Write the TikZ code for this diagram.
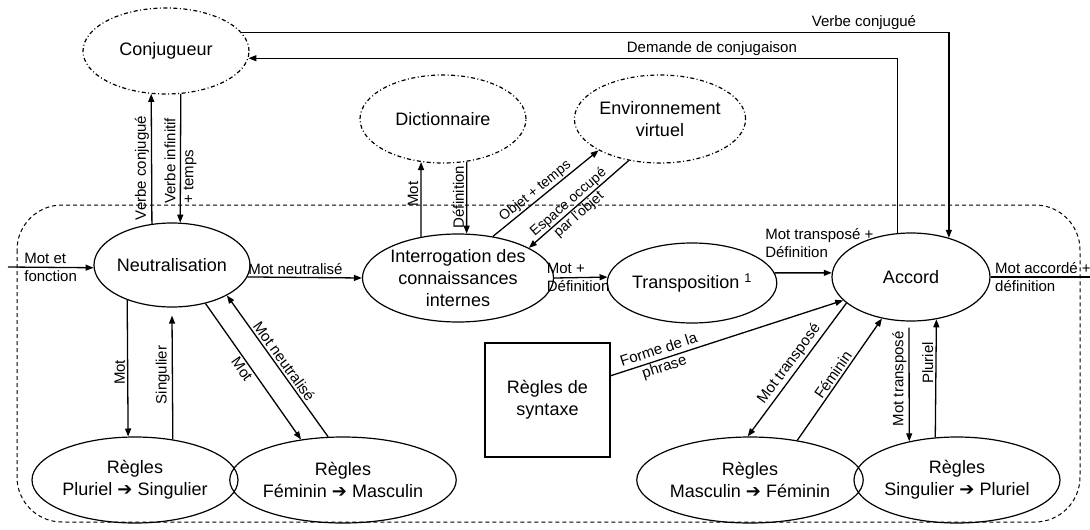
\documentclass[tikz,border=0pt]{standalone}
\usepackage{fontspec}
\setmainfont{Liberation Sans}
\newfontfamily\symfont{DejaVu Sans}
\usetikzlibrary{shapes.geometric,arrows.meta,calc}
\newcommand{\flecheR}{{\symfont\char"2794}}

\tikzset{
  big/.style={font=\fontsize{18}{22}\selectfont, align=center},
  solidell/.style={ellipse, draw, line width=1.2pt, inner sep=0pt, big},
  dotell/.style={ellipse, draw, line width=1.2pt,
    dash pattern=on 4pt off 2.5pt on 1pt off 2.5pt, inner sep=0pt, big},
  regle/.style={solidell, minimum width=206pt, minimum height=86pt},
  lab/.style={font=\fontsize{15}{18}\selectfont, inner sep=2pt},
  smalllab/.style={font=\fontsize{14}{16}\selectfont, inner sep=1pt},
  ln/.style={line width=1.3pt},
  arr/.style={ln, -{Triangle[length=8pt,width=6pt]}},
  framebox/.style={line width=1pt, dash pattern=on 4pt off 3pt, rounded corners=45pt}
}

\begin{document}
\begin{tikzpicture}[x=1pt,y=-1pt]
\useasboundingbox (0,0) rectangle (1090,530);

% system boundary
\draw[framebox] (17,205) rectangle (1080,522);

% external modules
\node[dotell, minimum width=166pt, minimum height=86pt] (conj) at (166,51) {Conjugueur};
\node[dotell, minimum width=166pt, minimum height=88pt] (dict) at (443,119) {Dictionnaire};
\node[dotell, minimum width=166pt, minimum height=88pt] (env) at (660,119) {Environnement\\virtuel};

% processing chain
\node[solidell, minimum width=156pt, minimum height=84pt] (neut) at (172,265) {Neutralisation};
\node[solidell, minimum width=160pt, minimum height=88pt] (intr) at (458,278) {Interrogation des\\connaissances\\internes};
\node[solidell, minimum width=156pt, minimum height=80pt] (trans) at (692,283) {Transposition \textsuperscript{1}};
\node[solidell, minimum width=158pt, minimum height=88pt] (acc) at (911,277) {Accord};
\node[draw, line width=1.2pt, minimum width=125pt, minimum height=114pt, big] (syn) at (547.5,400) {Règles de\\syntaxe};

% rule sets
\node[regle] (ps) at (135,480) {Règles\\Pluriel \flecheR{} Singulier};
\node[regle] (fm) at (343,480) {Règles\\Féminin \flecheR{} Masculin};
\node[regle] (mf) at (750,480) {Règles\\Masculin \flecheR{} Féminin};
\node[regle] (sp) at (957,480) {Règles\\Singulier \flecheR{} Pluriel};

\coordinate (in) at (8,267);
\coordinate (out) at (1090,277);

% conjugation loop
\draw[arr] (conj.14) -| node[lab, pos=0.44, above] {Verbe conjugué} (acc.46.6);
\draw[arr] (acc.107) |- node[lab, pos=0.643, above] {Demande de conjugaison} (conj.-5.6);
\draw[arr] (neut.116.2) -- node[lab, pos=0.43, rotate=90, anchor=south] {Verbe conjugué} (conj.251.7);
\draw[arr] (conj.-71.7) -- node[lab, pos=0.52, rotate=90, align=left] {Verbe infinitif\\+ temps} (neut.79.2);

% main flow
\draw[arr] (in) -- node[lab, pos=0.16, anchor=west, align=left] {Mot et\\fonction} (neut.182);
\draw[arr] (neut.-9.9) -- node[lab, pos=0.42, above] {Mot neutralisé} (intr.west);
\draw[arr] (intr.east) -- node[lab, pos=0.45, align=left] {Mot +\\Définition} (trans.176.3);
\draw[arr] (trans.7.5) -- node[lab, pos=0, anchor=south west, align=left, xshift=-12pt, yshift=13pt] {Mot transposé +\\Définition} (acc.177.05);
\draw[ln] (acc.east) -- node[lab, pos=0.02, anchor=west, align=left] {Mot accordé +\\définition} (out);

% knowledge queries
\draw[arr] (intr.132.5) -- node[lab, pos=0.57, rotate=90, anchor=south] {Mot} (dict.243.8);
\draw[arr] (dict.-61.5) -- node[lab, pos=0.49, rotate=90, anchor=south] {Définition} (intr.79.6);
\draw[arr] (intr.50) -- node[smalllab, pos=0.45, sloped, above] {Objet + temps} (env.207);
\draw[arr] (env.233) -- node[smalllab, pos=0.55, sloped, align=center] {Espace occupé\\par l'objet} (intr.23);

% neutralisation rules
\draw[arr] (neut.218.3) -- node[lab, pos=0.53, rotate=90, anchor=south] {Mot} (ps.99.3);
\draw[arr] (ps.47.3) -- node[lab, pos=0.52, rotate=90, anchor=south] {Singulier} ([yshift=-8pt]neut.south);
\draw[arr] (neut.-49.5) -- node[lab, pos=0.45, sloped, below] {Mot} (fm.136);
\draw[arr] (fm.109.4) -- node[lab, midway, sloped, above] {Mot neutralisé} (neut.-29.3);

% agreement rules
\draw[arr] (syn.21.8) -- node[lab, pos=0.22, sloped, align=center] {Forme de la\\phrase} (acc.199.1);
\draw[arr] (acc.202) -- node[lab, midway, sloped, above] {Mot transposé} (mf.93);
\draw[arr] (mf.40.7) -- node[lab, midway, sloped, above] {Féminin} (acc.235.1);
\draw[arr] ($(acc.south)+(-2,6)$) -- node[lab, pos=0.45, rotate=90, anchor=south] {Mot transposé} (sp.141.6);
\draw[arr] (sp.117.6) -- node[lab, pos=0.63, rotate=90, anchor=south] {Pluriel} (acc.-59.6);
\end{tikzpicture}
\end{document}
